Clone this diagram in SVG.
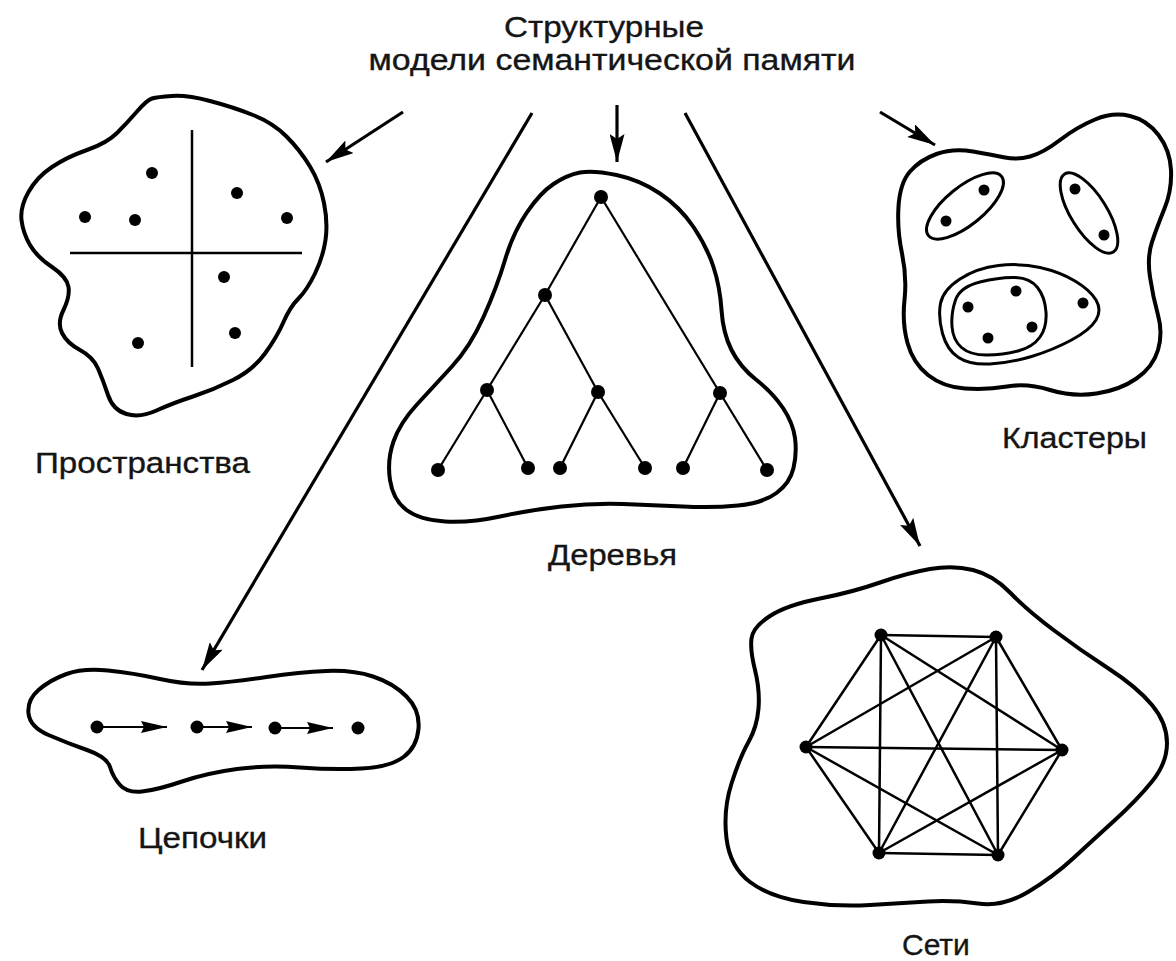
<svg xmlns="http://www.w3.org/2000/svg" width="1176" height="961" viewBox="0 0 1176 961">
<style>
  text { font-family: "Liberation Sans", Arial, sans-serif; fill: #151515; stroke: #151515; stroke-width: 0.35; }
  .title { font-size: 29px; }
  .label { font-size: 30px; }
  .blob { fill: none; stroke: #000; stroke-width: 4; stroke-linejoin: round; }
  .thin { fill: none; stroke: #000; stroke-width: 3; }
  .edge { stroke: #000; stroke-width: 2.2; fill: none; }
  .net { stroke: #000; stroke-width: 2.5; fill: none; }
  .axis { stroke: #000; stroke-width: 2.5; fill: none; }
  .dot { fill: #000; }
  .conn { stroke: #000; stroke-width: 3.2; fill: none; }
</style>
<defs>
  <marker id="ah" viewBox="0 0 28 15" refX="28" refY="7.5" markerWidth="28" markerHeight="15" markerUnits="userSpaceOnUse" orient="auto">
    <path d="M0,0 L28,7.5 L0,15 L5,7.5 z" fill="#000"/>
  </marker>
  <marker id="ahs" viewBox="0 0 26 12" refX="26" refY="6" markerWidth="26" markerHeight="12" markerUnits="userSpaceOnUse" orient="auto">
    <path d="M0,0 L26,6 L0,12 L3,6 z" fill="#000"/>
  </marker>
</defs>

<g id="title">
  <text class="title" x="604" y="37" text-anchor="middle" textLength="200" lengthAdjust="spacingAndGlyphs">Структурные</text>
  <text class="title" x="612" y="70" text-anchor="middle" textLength="487" lengthAdjust="spacingAndGlyphs">модели  семантической памяти</text>
</g>

<g id="connectors">
  <line class="conn" x1="403" y1="112" x2="326" y2="162" marker-end="url(#ah)"/>
  <line class="conn" x1="532" y1="113" x2="202" y2="670" marker-end="url(#ah)"/>
  <line class="conn" x1="617" y1="105" x2="617" y2="162" marker-end="url(#ah)"/>
  <line class="conn" x1="685" y1="113" x2="920" y2="546" marker-end="url(#ah)"/>
  <line class="conn" x1="880" y1="112" x2="935" y2="145" marker-end="url(#ah)"/>
</g>

<g id="spaces">
  <path class="blob" d="M152,98.5 Q157,97 172,96 Q187,95 210,101 Q233,107 253,115 Q273,123 286.5,136.5 Q300,150 310,166.5 Q320,183 324,203 Q328,223 325.5,240 Q323,257 315,273.5 Q307,290 298.5,298.5 Q290,307 283.5,322 Q277,337 265,353.5 Q253,370 233,380 Q213,390 193,396.5 Q173,403 156.5,410.5 Q140,418 126.5,414 Q113,410 108,395 Q103,380 98,368.5 Q93,357 80,350 Q67,343 62,333 Q57,323 63.5,310 Q70,297 68.5,287 Q67,277 52,267 Q37,257 30,245 Q23,233 21.5,220 Q20,207 28.5,192 Q37,177 52,167 Q67,157 87,150 Q107,143 117,133 Q127,123 137,111.5 Q147,100 152,98.5 Z"/>
  <line class="axis" x1="192" y1="130" x2="192" y2="367"/>
  <line class="axis" x1="70" y1="253" x2="302" y2="253"/>
  <circle class="dot" cx="152" cy="173" r="6"/>
  <circle class="dot" cx="237" cy="193" r="6"/>
  <circle class="dot" cx="85" cy="217" r="6"/>
  <circle class="dot" cx="135" cy="220" r="6"/>
  <circle class="dot" cx="287" cy="218" r="6"/>
  <circle class="dot" cx="224" cy="277" r="6"/>
  <circle class="dot" cx="235" cy="333" r="6"/>
  <circle class="dot" cx="138" cy="343" r="6"/>
  <text class="label" x="35" y="473" textLength="215" lengthAdjust="spacingAndGlyphs">Пространства</text>
</g>

<g id="trees">
  <path class="blob" d="M580,172.5 Q593,170 616.5,175 Q640,180 660,193.5 Q680,207 693.5,227 Q707,247 713.5,267 Q720,287 721.5,310 Q723,333 731.5,350 Q740,367 756.5,380 Q773,393 783,408 Q793,423 795,438 Q797,453 793.5,468 Q790,483 776.5,493 Q763,503 738,505.5 Q713,508 683,506.5 Q653,505 623,504 Q593,503 561.5,506.5 Q530,510 500,516.5 Q470,523 445,521.5 Q420,520 406.5,510 Q393,500 390,480 Q387,460 393.5,441.5 Q400,423 416.5,405 Q433,387 451.5,367 Q470,347 483.5,317 Q497,287 505,260 Q513,233 526.5,213 Q540,193 553.5,184 Q567,175 580,172.5 Z"/>
  <g class="edge">
    <line x1="601" y1="197" x2="545" y2="295"/>
    <line x1="601" y1="197" x2="720" y2="393"/>
    <line x1="545" y1="295" x2="487" y2="390"/>
    <line x1="545" y1="295" x2="598" y2="392"/>
    <line x1="487" y1="390" x2="438" y2="470"/>
    <line x1="487" y1="390" x2="528" y2="468"/>
    <line x1="598" y1="392" x2="560" y2="468"/>
    <line x1="598" y1="392" x2="645" y2="468"/>
    <line x1="720" y1="393" x2="683" y2="468"/>
    <line x1="720" y1="393" x2="767" y2="470"/>
  </g>
  <circle class="dot" cx="601" cy="197" r="7"/>
  <circle class="dot" cx="545" cy="295" r="7"/>
  <circle class="dot" cx="487" cy="390" r="7"/>
  <circle class="dot" cx="598" cy="392" r="7"/>
  <circle class="dot" cx="720" cy="393" r="7"/>
  <circle class="dot" cx="438" cy="470" r="7"/>
  <circle class="dot" cx="528" cy="468" r="7"/>
  <circle class="dot" cx="560" cy="468" r="7"/>
  <circle class="dot" cx="645" cy="468" r="7"/>
  <circle class="dot" cx="683" cy="468" r="7"/>
  <circle class="dot" cx="767" cy="470" r="7"/>
  <text class="label" x="548" y="565" textLength="129" lengthAdjust="spacingAndGlyphs">Деревья</text>
</g>

<g id="clusters">
  <path class="blob" d="M936.5,154 Q953,148 973,151.5 Q993,155 1005,157.5 Q1017,160 1030,156.5 Q1043,153 1060,140 Q1077,127 1095,119.5 Q1113,112 1130,116 Q1147,120 1158.5,135 Q1170,150 1171,170 Q1172,190 1164.5,208.5 Q1157,227 1152,242 Q1147,257 1150,277 Q1153,297 1158,315 Q1163,333 1158,350 Q1153,367 1136.5,378.5 Q1120,390 1096.5,393.5 Q1073,397 1050,390 Q1027,383 1007,386.5 Q987,390 965,388.5 Q943,387 928,375 Q913,363 907.5,343 Q902,323 904.5,300 Q907,277 902,253.5 Q897,230 898.5,206.5 Q900,183 910,171.5 Q920,160 936.5,154 Z"/>
  <ellipse class="thin" cx="965" cy="206" rx="47" ry="19" transform="rotate(-39 965 206)"/>
  <ellipse class="thin" cx="1089" cy="213" rx="46" ry="18" transform="rotate(58 1089 213)"/>
  <path class="thin" d="M940.5,303.5 Q943,290 960,279 Q977,268 998.5,265.5 Q1020,263 1040,267.5 Q1060,272 1075,281 Q1090,290 1096,300 Q1102,310 1096,320 Q1090,330 1071.5,340 Q1053,350 1031.5,356.5 Q1010,363 990,364 Q970,365 958.5,357.5 Q947,350 942.5,333.5 Q938,317 940.5,303.5 Z"/>
  <path class="thin" d="M955.5,300 Q960,287 980,282 Q1000,277 1015,277.5 Q1030,278 1037.5,287.5 Q1045,297 1046,312 Q1047,327 1040,337 Q1033,347 1018,351 Q1003,355 986.5,355 Q970,355 961.5,347.5 Q953,340 952,326.5 Q951,313 955.5,300 Z"/>
  <circle class="dot" cx="946" cy="221" r="5.5"/>
  <circle class="dot" cx="984" cy="190" r="5.5"/>
  <circle class="dot" cx="1075" cy="189" r="5.5"/>
  <circle class="dot" cx="1104" cy="235" r="5.5"/>
  <circle class="dot" cx="968" cy="307" r="5.5"/>
  <circle class="dot" cx="1016" cy="291" r="5.5"/>
  <circle class="dot" cx="1032" cy="327" r="5.5"/>
  <circle class="dot" cx="988" cy="338" r="5.5"/>
  <circle class="dot" cx="1083" cy="303" r="5.5"/>
  <text class="label" x="1002" y="448" textLength="145" lengthAdjust="spacingAndGlyphs">Кластеры</text>
</g>

<g id="chains">
  <path class="blob" d="M38.5,690 Q50,680 66.5,674 Q83,668 108,670.5 Q133,673 160,679 Q187,685 210,683.5 Q233,682 266.5,677 Q300,672 326.5,671 Q353,670 373,676.5 Q393,683 406.5,696.5 Q420,710 418.5,728.5 Q417,747 403.5,757 Q390,767 361.5,768.5 Q333,770 300,767.5 Q267,765 237,769 Q207,773 182,781.5 Q157,790 142,791.5 Q127,793 120,785 Q113,777 110,767 Q107,757 87,750 Q67,743 48.5,735 Q30,727 28.5,713.5 Q27,700 38.5,690 Z"/>
  <line class="edge" x1="97" y1="727" x2="167" y2="727" marker-end="url(#ahs)"/>
  <line class="edge" x1="197" y1="727" x2="252" y2="727" marker-end="url(#ahs)"/>
  <line class="edge" x1="275" y1="728" x2="333" y2="728" marker-end="url(#ahs)"/>
  <circle class="dot" cx="97" cy="727" r="6.5"/>
  <circle class="dot" cx="197" cy="727" r="6.5"/>
  <circle class="dot" cx="275" cy="728" r="6.5"/>
  <circle class="dot" cx="358" cy="728" r="6.5"/>
  <text class="label" x="138" y="848" textLength="129" lengthAdjust="spacingAndGlyphs">Цепочки</text>
</g>

<g id="networks">
  <path class="blob" d="M751.5,638.5 Q753,627 770,616 Q787,605 820,598.5 Q853,592 880,582.5 Q907,573 930,569 Q953,565 973,570 Q993,575 1010,592.5 Q1027,610 1053.5,630 Q1080,650 1108.5,668.5 Q1137,687 1152,705 Q1167,723 1167,743 Q1167,763 1152,781.5 Q1137,800 1115,820 Q1093,840 1073,858.5 Q1053,877 1028,892 Q1003,907 978,903.5 Q953,900 928,901.5 Q903,903 870,905 Q837,907 803.5,902 Q770,897 750,882 Q730,867 726.5,838.5 Q723,810 731.5,783.5 Q740,757 748.5,742 Q757,727 758.5,708.5 Q760,690 755,670 Q750,650 751.5,638.5 Z"/>
  <g class="net">
    <line x1="881" y1="635" x2="996" y2="637"/>
    <line x1="881" y1="635" x2="806" y2="747"/>
    <line x1="881" y1="635" x2="1062" y2="750"/>
    <line x1="881" y1="635" x2="879" y2="853"/>
    <line x1="881" y1="635" x2="998" y2="855"/>
    <line x1="996" y1="637" x2="806" y2="747"/>
    <line x1="996" y1="637" x2="1062" y2="750"/>
    <line x1="996" y1="637" x2="879" y2="853"/>
    <line x1="996" y1="637" x2="998" y2="855"/>
    <line x1="806" y1="747" x2="1062" y2="750"/>
    <line x1="806" y1="747" x2="879" y2="853"/>
    <line x1="806" y1="747" x2="998" y2="855"/>
    <line x1="1062" y1="750" x2="879" y2="853"/>
    <line x1="1062" y1="750" x2="998" y2="855"/>
    <line x1="879" y1="853" x2="998" y2="855"/>
  </g>
  <circle class="dot" cx="881" cy="635" r="6.5"/>
  <circle class="dot" cx="996" cy="637" r="6.5"/>
  <circle class="dot" cx="806" cy="747" r="6.5"/>
  <circle class="dot" cx="1062" cy="750" r="6.5"/>
  <circle class="dot" cx="879" cy="853" r="6.5"/>
  <circle class="dot" cx="998" cy="855" r="6.5"/>
  <text class="label" x="902" y="955">Сети</text>
</g>
</svg>
